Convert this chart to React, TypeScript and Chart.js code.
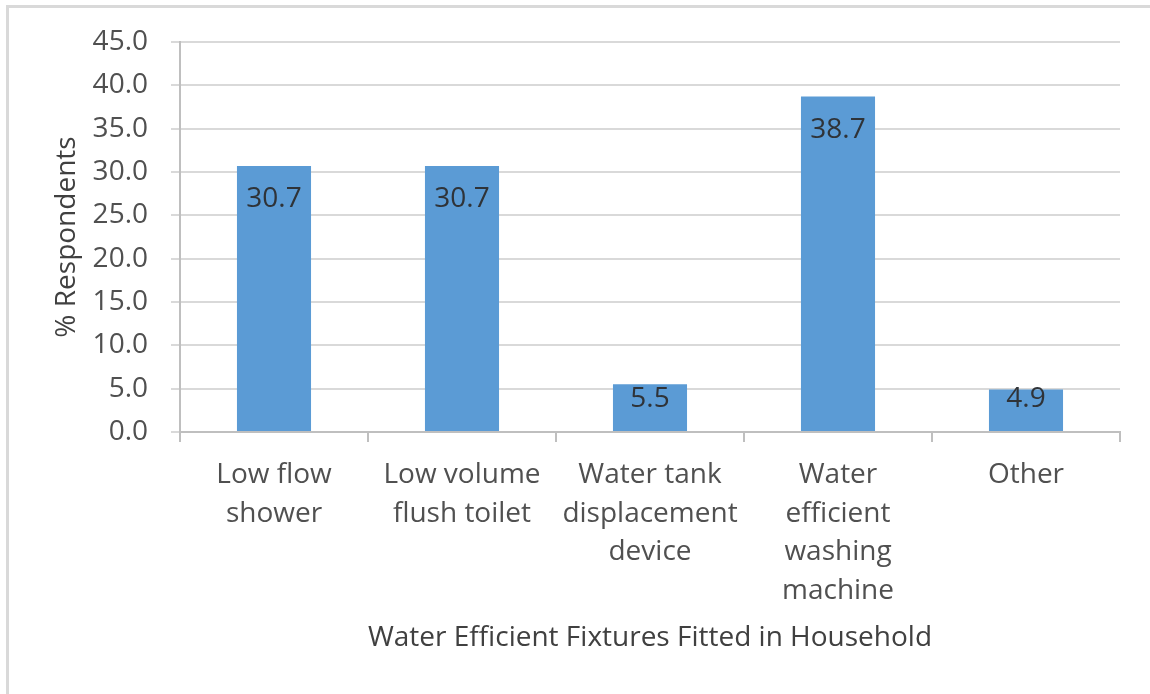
import React, { useEffect, useRef } from "react";
import { Chart, registerables } from "chart.js";

Chart.register(...registerables);

const categories: string[][] = [
  ["Low flow", "shower"],
  ["Low volume", "flush toilet"],
  ["Water tank", "displacement", "device"],
  ["Water", "efficient", "washing", "machine"],
  ["Other"],
];
const respondents: number[] = [30.7, 30.7, 5.5, 38.7, 4.9];
const yMin = 0;
const yMax = 45;
const yStep = 5;
const xTitle = "Water Efficient Fixtures Fitted in Household";
const yTitle = "% Respondents";

const FONT = "'Open Sans', 'Noto Sans', sans-serif";
const FS = 28;

const labelPlugin = {
  id: "barValueLabels",
  afterDatasetsDraw(chart: any) {
    const ctx = chart.ctx;
    const meta = chart.getDatasetMeta(0);
    ctx.save();
    ctx.font = `${FS}px ${FONT}`;
    ctx.fillStyle = "#2f3338";
    ctx.textAlign = "center";
    ctx.textBaseline = "middle";
    meta.data.forEach((el: any, i: number) => {
      const cy = Math.min(el.y + 33, el.base - 32);
      ctx.fillText(respondents[i].toFixed(1), el.x, cy);
    });
    ctx.restore();
  },
};

export default function App() {
  const canvasRef = useRef<HTMLCanvasElement | null>(null);

  useEffect(() => {
    if (!canvasRef.current) return;
    const chart = new Chart(canvasRef.current, {
      type: "bar",
      data: {
        labels: categories,
        datasets: [
          {
            data: respondents,
            backgroundColor: "#5B9BD5",
            borderWidth: 0,
            categoryPercentage: 1,
            barPercentage: 0.394,
          },
        ],
      },
      options: {
        responsive: false,
        animation: false,
        events: [],
        layout: { padding: { top: 42, right: 30, bottom: 0, left: 0 } },
        plugins: {
          legend: { display: false },
          tooltip: { enabled: false },
        },
        scales: {
          x: {
            grid: {
              offset: true,
              drawOnChartArea: false,
              drawTicks: true,
              tickLength: 10,
              color: "#bfbfbf",
              tickColor: "#bfbfbf",
              lineWidth: 2,
            },
            border: { color: "#bfbfbf", width: 2 },
            ticks: {
              color: "#505050",
              padding: 14,
              maxRotation: 0,
              autoSkip: false,
              font: { family: FONT, size: FS, lineHeight: 1.375 },
            },
            title: {
              display: true,
              text: xTitle,
              color: "#404040",
              font: { family: FONT, size: FS },
              padding: { top: 0, bottom: 39 },
            },
            afterFit(scale: any) {
              scale.height = 694 - 432;
            },
          },
          y: {
            min: yMin,
            max: yMax,
            grid: {
              color: "#d9d9d9",
              tickColor: "#d9d9d9",
              lineWidth: 2,
              tickLength: 9,
            },
            border: { color: "#bfbfbf", width: 2 },
            ticks: {
              stepSize: yStep,
              color: "#505050",
              padding: 23,
              font: { family: FONT, size: FS },
              callback: (v: any) => Number(v).toFixed(1),
            },
            title: {
              display: true,
              text: yTitle,
              color: "#404040",
              font: { family: FONT, size: FS },
              padding: { top: 50, bottom: 0 },
            },
            afterFit(scale: any) {
              scale.width = 180;
            },
          },
        },
      },
      plugins: [labelPlugin],
    });
    return () => chart.destroy();
  }, []);

  return (
    <div
      style={{
        position: "fixed",
        left: 0,
        top: 0,
        width: 1150,
        height: 694,
        overflow: "hidden",
        background: "#ffffff",
      }}
    >
      <div
        style={{
          position: "absolute",
          left: 6,
          top: 5,
          width: 1200,
          height: 760,
          borderTop: "3px solid #d9d9d9",
          borderLeft: "3px solid #d9d9d9",
        }}
      />
      <canvas
        ref={canvasRef}
        width={1150}
        height={694}
        style={{ position: "absolute", left: 0, top: 0, width: 1150, height: 694 }}
      />
    </div>
  );
}
